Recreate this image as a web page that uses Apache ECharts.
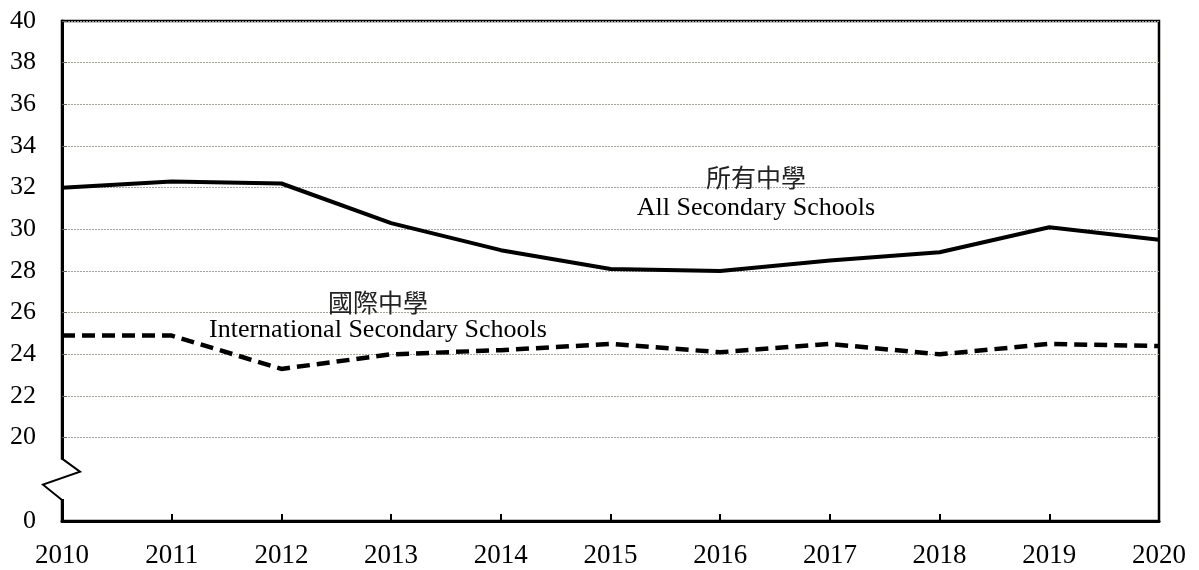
<!DOCTYPE html>
<html>
<head>
<meta charset="utf-8">
<script src="https://cdn.jsdelivr.net/npm/echarts@6/dist/echarts.min.js"></script>
<style>html,body{margin:0;padding:0;background:#fff;}#c{width:1199px;height:570px;}</style>
</head>
<body>
<div id="c"></div>
<script>
// Data
const years = ['2010','2011','2012','2013','2014','2015','2016','2017','2018','2019','2020'];
const allSchools = [32.0, 32.3, 32.2, 30.3, 29.0, 28.1, 28.0, 28.5, 28.9, 30.1, 29.5];
const intlSchools = [24.9, 24.9, 23.3, 24.0, 24.2, 24.5, 24.1, 24.5, 24.0, 24.5, 24.4];
const yTickValues = [20, 22, 24, 26, 28, 30, 32, 34, 36, 38, 40];
const yLabelValues = [16, 20, 22, 24, 26, 28, 30, 32, 34, 36, 38, 40]; // 16 is drawn as "0" (axis break)
const allLabelZh = '所有中學', allLabelEn = 'All Secondary Schools';
const intlLabelZh = '國際中學', intlLabelEn = 'International Secondary Schools';

const serif = '"Liberation Serif", "Times New Roman", serif';
const chart = echarts.init(document.getElementById('c'));
const G = {left: 62, right: 40, top: 21, bottom: 49};

chart.setOption({
  animation: false,
  backgroundColor: '#fff',
  grid: {left: G.left, right: G.right, top: G.top, bottom: G.bottom, show: true, borderColor: '#000', borderWidth: 2.5, containLabel: false},
  xAxis: {
    type: 'category', data: years, boundaryGap: false,
    axisLine: {lineStyle: {color: '#000', width: 3}},
    axisTick: {inside: true, length: 7, lineStyle: {color: '#000', width: 2}},
    axisLabel: {color: '#000', fontFamily: serif, fontSize: 27, margin: 21},
    splitLine: {show: false}
  },
  yAxis: {
    type: 'value', min: 16, max: 40, interval: 2,
    axisLine: {show: true, lineStyle: {color: '#000', width: 3}},
    axisTick: {show: true, inside: true, length: 5, customValues: yTickValues, lineStyle: {color: '#666', width: 1}},
    axisLabel: {color: '#000', fontFamily: serif, fontSize: 26, margin: 26, customValues: yLabelValues,
      formatter: v => v === 16 ? '0' : String(v)},
    splitLine: {show: true, lineStyle: {color: '#a5a595', width: 1, type: [2, 1]}}
  },
  series: [
    {name: allLabelEn, type: 'line', data: allSchools, symbol: 'none', lineStyle: {color: '#000', width: 4}, z: 3},
    {name: intlLabelEn, type: 'line', data: intlSchools, symbol: 'none', lineStyle: {color: '#000', width: 4.5, type: [13, 7]}, z: 3}
  ]
});

// axis break zigzag and annotations
const yTop = chart.convertToPixel({yAxisIndex: 0}, 20);
const yBot = chart.convertToPixel({yAxisIndex: 0}, 16);
const ax = G.left;
const z1 = yTop + 21, z4 = yBot - 21;
chart.setOption({
  graphic: [
    {type: 'rect', shape: {x: ax - 3, y: z1 + 1, width: 6, height: z4 - z1 - 2}, style: {fill: '#fff'}, z: 100},
    {type: 'polyline', shape: {points: [[ax, z1], [ax + 18, z1 + 13], [ax - 19, z1 + 26], [ax, z4]]}, style: {stroke: '#000', lineWidth: 2, fill: null}, z: 101},
    {type: 'text', x: 756, y: 177, style: {text: allLabelZh, font: '25px "Noto Sans CJK TC"', fill: '#222', align: 'center', verticalAlign: 'middle'}, z: 50},
    {type: 'text', x: 756, y: 208, style: {text: allLabelEn, font: '26px ' + serif, fill: '#000', align: 'center', verticalAlign: 'middle'}, z: 50},
    {type: 'text', x: 378, y: 302, style: {text: intlLabelZh, font: '25px "Noto Sans CJK TC"', fill: '#222', align: 'center', verticalAlign: 'middle'}, z: 50},
    {type: 'text', x: 378, y: 330, style: {text: intlLabelEn, font: '26px ' + serif, fill: '#000', align: 'center', verticalAlign: 'middle'}, z: 50}
  ]
});
</script>
</body>
</html>
